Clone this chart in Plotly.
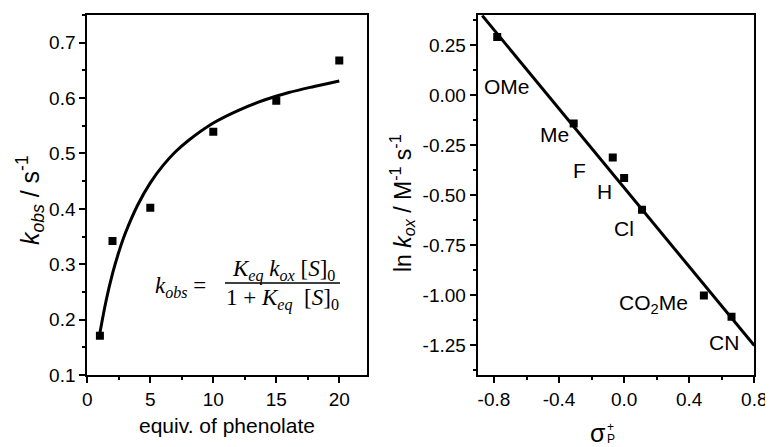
import plotly.graph_objects as go

# ---------------- data ----------------
# Left panel: k_obs vs equivalents of phenolate
equiv = [1, 2, 5, 10, 15, 20]
k_obs = [0.171, 0.342, 0.402, 0.539, 0.595, 0.668]
# fitted saturation curve
fit_x = [1, 1.5, 2, 2.5, 3, 4, 5, 6, 7, 8, 10, 12, 14, 16, 18, 20]
fit_y = [0.176, 0.235, 0.283, 0.322, 0.355, 0.407, 0.447, 0.478, 0.503, 0.523,
         0.555, 0.578, 0.596, 0.610, 0.621, 0.631]

# Right panel: Hammett plot
substituents = ["OMe", "Me", "F", "H", "Cl", "CO<sub>2</sub>Me", "CN"]
sigma_p = [-0.78, -0.31, -0.07, 0.00, 0.11, 0.49, 0.66]
ln_kox = [0.29, -0.142, -0.312, -0.415, -0.574, -1.002, -1.109]
line_x = [-0.872, 0.80]
line_y = [0.397, -1.253]

# tick labels
l_xticks = [0, 5, 10, 15, 20]
l_xtext = ["0", "5", "10", "15", "20"]
l_yticks = [0.1, 0.2, 0.3, 0.4, 0.5, 0.6, 0.7]
l_ytext = ["0.1", "0.2", "0.3", "0.4", "0.5", "0.6", "0.7"]
r_xticks = [-0.8, -0.4, 0.0, 0.4, 0.8]
r_xtext = ["-0.8", "-0.4", "0.0", "0.4", "0.8"]
r_yticks = [0.25, 0.0, -0.25, -0.5, -0.75, -1.0, -1.25]
r_ytext = ["0.25", "0.00", "-0.25", "-0.50", "-0.75", "-1.00", "-1.25"]

# ---------------- styles ----------------
OFF = 8                      # page body margin
W, H = 773 - OFF, 447 - OFF  # figure size so it fills the window
SANS = "Arial, 'Liberation Sans', sans-serif"
SERIF = "'Liberation Serif', 'DejaVu Serif', serif"
TICKF = dict(family=SANS, size=19, color="black")
LABF = dict(family=SANS, size=21, color="black")

def px(x, y):
    """screen pixel -> paper fraction"""
    return (x - OFF) / W, 1 - (y - OFF) / H

fig = go.Figure()

fig.add_trace(go.Scatter(x=fit_x, y=fit_y, mode="lines", line=dict(color="black", width=3, shape="spline"),
                         xaxis="x", yaxis="y", showlegend=False, hoverinfo="skip"))
fig.add_trace(go.Scatter(x=equiv, y=k_obs, mode="markers",
                         marker=dict(symbol="square", size=8, color="black"),
                         xaxis="x", yaxis="y", showlegend=False))
fig.add_trace(go.Scatter(x=line_x, y=line_y, mode="lines", line=dict(color="black", width=3),
                         xaxis="x2", yaxis="y2", showlegend=False, hoverinfo="skip"))
fig.add_trace(go.Scatter(x=sigma_p, y=ln_kox, mode="markers",
                         marker=dict(symbol="square", size=8, color="black"),
                         xaxis="x2", yaxis="y2", showlegend=False))

def axis(domain, rng, tickvals, ticktext, minor_vals, anchor):
    return dict(domain=domain, range=rng, tickmode="array", tickvals=tickvals, ticktext=ticktext,
                ticks="outside", ticklen=6, tickwidth=2, tickcolor="black",
                showline=True, linewidth=2, linecolor="black", mirror=True,
                showgrid=False, zeroline=False, tickfont=TICKF, anchor=anchor, automargin=False,
                minor=dict(tickmode="array", tickvals=minor_vals, ticks="outside",
                           ticklen=3, tickwidth=2, tickcolor="black", showgrid=False))

lx0, yb = px(87.3, 375)
lx1, yt = px(367, 15)
rx0, _ = px(477.7, 375)
rx1, _ = px(754.3, 375)
ydom = [yb, yt]
fig.update_layout(
    width=W, height=H, margin=dict(l=0, r=0, t=0, b=0, autoexpand=False),
    paper_bgcolor="white", plot_bgcolor="white",
    xaxis=axis([lx0, lx1], [0, 22.2], l_xticks, l_xtext, [2.5, 7.5, 12.5, 17.5], "y"),
    yaxis=axis(ydom, [0.1, 0.75], l_yticks, l_ytext,
               [0.15, 0.25, 0.35, 0.45, 0.55, 0.65, 0.75], "x"),
    xaxis2=axis([rx0, rx1], [-0.9, 0.8], r_xticks, r_xtext, [-0.6, -0.2, 0.2, 0.6], "y2"),
    yaxis2=axis(ydom, [-1.4, 0.4], r_yticks, r_ytext,
                [0.375, 0.125, -0.125, -0.375, -0.625, -0.875, -1.125, -1.375], "x2"),
)

ann = []

def pann(x, y, text, font, angle=0):
    xp, yp = px(x, y)
    ann.append(dict(x=xp, y=yp, xref="paper", yref="paper", showarrow=False, textangle=angle,
                    xanchor="center", yanchor="middle", text=text, font=font))

# axis titles
pann(30, 200, "<i>k</i><sub><i>obs</i></sub> / s<sup>-1</sup>", dict(family=SANS, size=25, color="black"), -90)
pann(402, 203, "ln <i>k</i><sub><i>ox</i></sub> / M<sup>-1</sup> s<sup>-1</sup>",
     dict(family=SANS, size=23, color="black"), -90)
pann(227, 425, "equiv. of phenolate", dict(family=SANS, size=21, color="black"))
pann(598, 433, "σ", dict(family=SANS, size=25, color="black"))
pann(611, 439, "P", dict(family=SANS, size=12, color="black"))
pann(610, 427, "+", dict(family=SANS, size=12, color="black"))

# equation
EQF = dict(family=SERIF, size=23, color="black")
pann(180, 287, "<i>k</i><sub><i>obs</i></sub> =", EQF)
pann(283, 270, "<i>K</i><sub><i>eq</i></sub> <i>k</i><sub><i>ox</i></sub> [<i>S</i>]<sub>0</sub>", EQF)
pann(282, 299, "1 + <i>K</i><sub><i>eq</i></sub>  [<i>S</i>]<sub>0</sub>", EQF)
fx0, fy = px(225, 283)
fx1, _ = px(340, 283)
fig.add_shape(type="line", xref="paper", yref="paper", x0=fx0, x1=fx1, y0=fy, y1=fy,
              line=dict(color="black", width=1.5))

# substituent labels (pixel offsets from their points)
offsets = [(10, -49), (-19, -11), (-33, -13), (-20, -13), (-18, -19), (-50, -9), (-8, -26)]
for name, sx, sy, (dx, dy) in zip(substituents, sigma_p, ln_kox, offsets):
    ann.append(dict(x=sx, y=sy, xref="x2", yref="y2", showarrow=False, xshift=dx, yshift=dy,
                    xanchor="center", yanchor="middle", text=name, font=LABF))

fig.update_layout(annotations=ann)
fig.write_html("out.html")
